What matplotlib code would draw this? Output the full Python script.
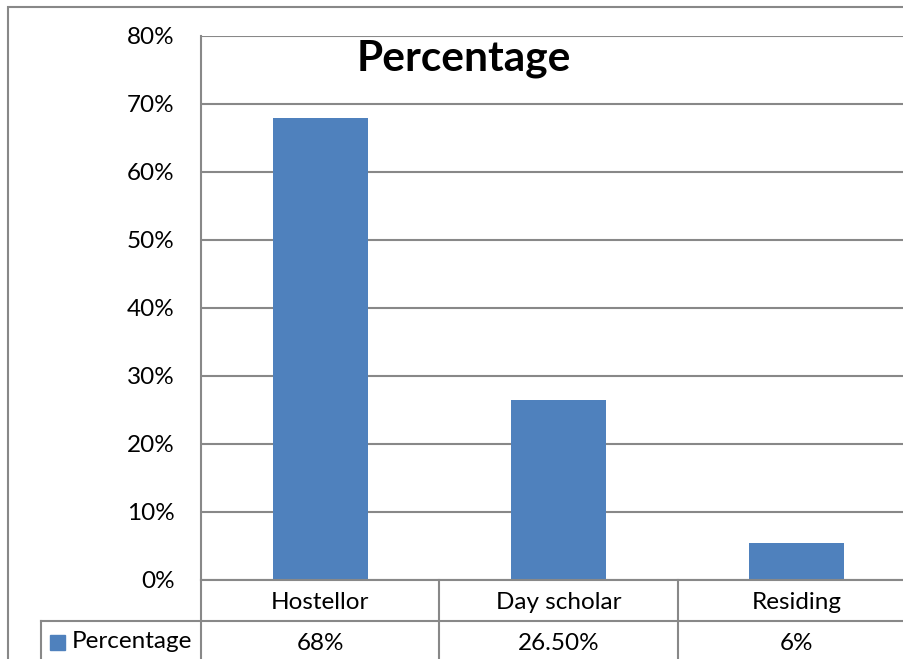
import matplotlib
matplotlib.use("Agg")
import matplotlib.pyplot as plt
from matplotlib.patches import Rectangle

plt.rcParams["font.family"] = ["Lato", "DejaVu Sans"]

# データ
categories = ["Hostellor", "Day scholar", "Residing"]
values = [68, 26.5, 5.5]
table_labels = ["68%", "26.50%", "6%"]
series_name = "Percentage"
yticks = [0, 10, 20, 30, 40, 50, 60, 70, 80]

BAR_COLOR = "#4F81BD"
LINE_COLOR = "#888888"
W, H = 904, 659
FS = 17.5

fig = plt.figure(figsize=(W / 100, H / 100), dpi=100)

# 外枠（右・下は画像外）
fig.patches.append(Rectangle((8 / W, -0.1), 1.2, 1 - 7 / H + 0.1,
                             transform=fig.transFigure, fill=False,
                             edgecolor=LINE_COLOR, linewidth=1.5))

left, right = 201 / W, 916 / W
ax = fig.add_axes([left, 1 - 580 / H, right - left, (580 - 36) / H])
x = list(range(len(categories)))
ax.bar(x, values, width=0.4, color=BAR_COLOR, zorder=3)
ax.set_xlim(-0.5, 2.5)
ax.set_ylim(0, 80)
ax.set_yticks(yticks)
ax.set_yticklabels([f"{v}%" for v in yticks], fontsize=FS)
ax.tick_params(axis="y", length=0, pad=19)
ax.set_xticks([])
ax.grid(True, axis="y", color=LINE_COLOR, linewidth=1.5, zorder=0)
for side in ["top", "right", "bottom"]:
    ax.spines[side].set_visible(False)
ax.spines["left"].set_color(LINE_COLOR)
ax.spines["left"].set_linewidth(1.5)

fig.text(464 / W, 1 - 59 / H, series_name, ha="center", va="center",
         fontsize=30.5, fontweight="bold")

# データテーブル
tab = fig.add_axes([left, 1 - 662 / H, right - left, 82 / H])
tab.set_xlim(-0.5, 2.5)
tab.set_ylim(2, 0)
tab.axis("off")
cell_left = -0.5 - (201 - 41) / 238.5
kw = dict(color=LINE_COLOR, linewidth=1.5, clip_on=False)
tab.plot([-0.5, 2.5], [0, 0], **kw)
tab.plot([cell_left, 2.5], [1, 1], **kw)
tab.plot([cell_left, 2.5], [2, 2], **kw)
tab.plot([cell_left, cell_left], [1, 2.2], **kw)
for b in [-0.5, 0.5, 1.5, 2.5]:
    tab.plot([b, b], [0, 2.2], **kw)
for i, (cat, lab) in enumerate(zip(categories, table_labels)):
    tab.text(i, 0.55, cat, ha="center", va="center", fontsize=FS)
    tab.text(i, 1.55, lab, ha="center", va="center", fontsize=FS)

# 凡例キー
fig.patches.append(Rectangle((50 / W, 1 - 650 / H), 15 / W, 15 / H,
                             transform=fig.transFigure, color=BAR_COLOR))
fig.text(72 / W, 1 - 641 / H, series_name, ha="left", va="center",
         fontsize=FS)

fig.savefig("out.png", dpi=100)
